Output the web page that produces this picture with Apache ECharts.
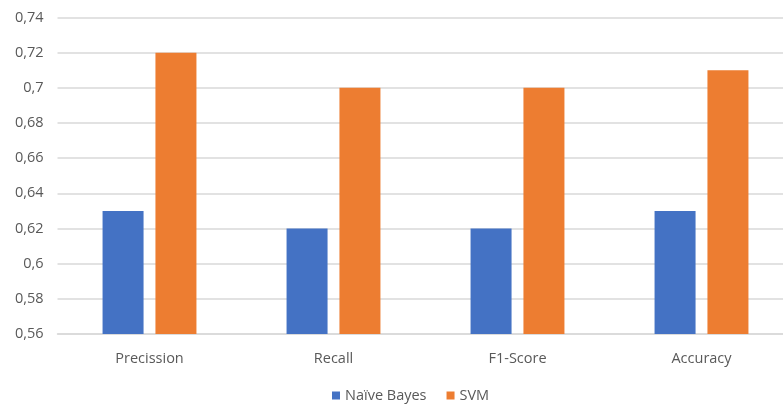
<!DOCTYPE html>
<html><head><meta charset="utf-8">
<script src="https://cdn.jsdelivr.net/npm/echarts@6/dist/echarts.min.js"></script>
<style>html,body{margin:0;padding:0;background:#fff;overflow:hidden;width:783px;height:404px}#c{width:794px;height:404px}</style>
</head><body><div id="c"></div>
<script>
const categories = ['Precission', 'Recall', 'F1-Score', 'Accuracy'];
const naiveBayes = [0.63, 0.62, 0.62, 0.63];
const svm = [0.72, 0.70, 0.70, 0.71];
const seriesNames = ['Naïve Bayes', 'SVM'];

const fmt = v => String(Math.round(v * 100) / 100).replace('.', ',');
const chart = echarts.init(document.getElementById('c'));
chart.setOption({
  animation: false,
  textStyle: { fontFamily: 'Open Sans, Carlito, Calibri, sans-serif' },
  grid: { left: 57.5, right: 0.5, top: 17.5, bottom: 70, containLabel: false },
  legend: {
    top: 383, left: 327,
    itemWidth: 8, itemHeight: 8, itemGap: 20, icon: 'rect',
    textStyle: { color: '#595959', fontSize: 14.5 },
    data: seriesNames
  },
  xAxis: {
    type: 'category', data: categories,
    axisLine: { show: true, lineStyle: { color: '#d9d9d9', width: 1.5 } },
    axisTick: { show: false },
    axisLabel: { color: '#595959', fontSize: 14.5, margin: 17 }
  },
  yAxis: {
    type: 'value', min: 0.56, max: 0.74, interval: 0.02,
    axisLine: { show: false }, axisTick: { show: false },
    axisLabel: { color: '#595959', fontSize: 14.5, margin: 14, formatter: fmt },
    splitLine: { lineStyle: { color: '#d9d9d9', width: 1.5 } }
  },
  series: [
    { name: seriesNames[0], type: 'bar', data: naiveBayes, barWidth: 41, barGap: '29%',
      itemStyle: { color: '#4472C4' } },
    { name: seriesNames[1], type: 'bar', data: svm, barWidth: 41,
      itemStyle: { color: '#ED7D31' } }
  ]
});
</script></body></html>
